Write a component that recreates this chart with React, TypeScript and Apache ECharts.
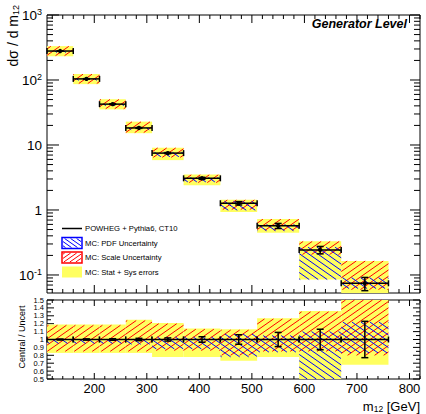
import React, { useEffect, useRef } from "react";
import * as echarts from "echarts";

// ---------- data ----------
const binEdges = [110, 160, 210, 260, 310, 370, 440, 510, 590, 670, 760];
const crossSection = [279, 104, 42.5, 18.3, 7.5, 3.07, 1.27, 0.57, 0.243, 0.0745];
const statError = [0.006, 0.008, 0.01, 0.015, 0.02, 0.035, 0.06, 0.09, 0.13, 0.23];
const statSysLow = [0.83, 0.83, 0.83, 0.83, 0.78, 0.78, 0.73, 0.78, 0.35, 0.68];
const statSysHigh = [1.19, 1.19, 1.19, 1.25, 1.21, 1.14, 1.13, 1.27, 1.36, 2.2];
const scaleLow = [0.85, 0.85, 0.85, 0.85, 0.86, 0.86, 0.8, 0.85, 0.85, 0.8];
const scaleHigh = [1.18, 1.18, 1.18, 1.24, 1.2, 1.13, 1.12, 1.26, 1.35, 2.2];
const pdfLow = [0.95, 0.95, 0.95, 0.94, 0.88, 0.88, 0.78, 0.84, 0.35, 0.83];
const pdfHigh = [1.0, 1.0, 1.0, 1.0, 1.03, 1.03, 1.07, 1.05, 1.1, 1.22];

const legendLabels = [
  "POWHEG + Pythia6, CT10",
  "MC: PDF Uncertainty",
  "MC: Scale Uncertainty",
  "MC: Stat + Sys errors",
];

const X_MIN = 110;
const X_MAX = 820;
const Y_MIN = 0.0528;
const Y_MAX = 1000;
const R_MIN = 0.5;
const R_MAX = 1.5;

const xMajorTicks = [200, 300, 400, 500, 600, 700, 800];
const xMinorTicks: number[] = [];
for (let v = 120; v <= X_MAX; v += 20) if (v % 100 !== 0) xMinorTicks.push(v);
const logMajorTicks = [0.1, 1, 10, 100, 1000];
const logMinorTicks: number[] = [];
for (const d of [0.01, 0.1, 1, 10, 100])
  for (let m = 2; m <= 9; m++) {
    const v = m * d;
    if (v > Y_MIN && v < Y_MAX) logMinorTicks.push(v);
  }
const ratioMajorTicks: number[] = [];
const ratioMinorTicks: number[] = [];
for (let i = 0; i <= 10; i++) ratioMajorTicks.push(0.5 + i * 0.1);
for (let i = 0; i < 10; i++) ratioMinorTicks.push(0.55 + i * 0.1);

// ---------- style ----------
const FONT = "'Liberation Sans', Arial, sans-serif";
const YELLOW = "#ffff60";
const RED = "#ff0000";
const BLUE = "#0000ff";
const HATCH_T = Math.tan((35 * Math.PI) / 180);

function hatchLines(
  x0: number, y0: number, x1: number, y1: number,
  dir: number, spacing: number, color: string, width: number
) {
  const out: any[] = [];
  if (x1 - x0 < 0.5 || y1 - y0 < 0.5) return out;
  const t = HATCH_T;
  if (dir === 1) {
    const cmin = x0 + y0 / t, cmax = x1 + y1 / t;
    for (let c = Math.ceil(cmin / spacing) * spacing; c <= cmax; c += spacing) {
      const ylo = Math.max(y0, (c - x1) * t), yhi = Math.min(y1, (c - x0) * t);
      if (yhi - ylo <= 0.05) continue;
      out.push({ type: "line", silent: true, shape: { x1: c - ylo / t, y1: ylo, x2: c - yhi / t, y2: yhi }, style: { stroke: color, lineWidth: width } });
    }
  } else {
    const cmin = x0 - y1 / t, cmax = x1 - y0 / t;
    for (let c = Math.ceil(cmin / spacing) * spacing; c <= cmax; c += spacing) {
      const ylo = Math.max(y0, (x0 - c) * t), yhi = Math.min(y1, (x1 - c) * t);
      if (yhi - ylo <= 0.05) continue;
      out.push({ type: "line", silent: true, shape: { x1: c + ylo / t, y1: ylo, x2: c + yhi / t, y2: yhi }, style: { stroke: color, lineWidth: width } });
    }
  }
  return out;
}

function binRender(withDot: boolean) {
  return (params: any, api: any) => {
    const cs = params.coordSys;
    const L = cs.x, R = cs.x + cs.width, T = cs.y, B = cs.y + cs.height;
    const xl = api.value(0), xh = api.value(1), c = api.value(2);
    const X0 = Math.max(L, api.coord([xl, c])[0]);
    const X1 = Math.min(R, api.coord([xh, c])[0]);
    const Y = (v: number) => api.coord([xl, v])[1];
    const cl = (y: number) => Math.max(T, Math.min(B, y));
    const band = (i: number) => [cl(Y(api.value(i + 1))), cl(Y(api.value(i)))];
    const children: any[] = [];
    const [ty0, ty1] = band(3);
    children.push({ type: "rect", shape: { x: X0, y: ty0, width: X1 - X0, height: ty1 - ty0 }, style: { fill: YELLOW } });
    const [ry0, ry1] = band(5);
    children.push(...hatchLines(X0, ry0, X1, ry1, 1, 9, RED, 1));
    const [by0, by1] = band(7);
    children.push(...hatchLines(X0, by0, X1, by1, -1, 9, BLUE, 1));
    const blk = { stroke: "#000", lineWidth: 1.5 };
    const yc = Y(c);
    if (yc >= T && yc <= B) {
      children.push({ type: "line", shape: { x1: X0, y1: yc, x2: X1, y2: yc }, style: blk });
      children.push({ type: "line", shape: { x1: X0, y1: yc - 3, x2: X0, y2: yc + 3 }, style: blk });
      children.push({ type: "line", shape: { x1: X1, y1: yc - 3, x2: X1, y2: yc + 3 }, style: blk });
    }
    const xm = api.coord([(xl + xh) / 2, c])[0];
    const e0 = cl(Y(api.value(9))), e1 = cl(Y(api.value(10)));
    children.push({ type: "line", shape: { x1: xm, y1: e1, x2: xm, y2: e0 }, style: blk });
    children.push({ type: "line", shape: { x1: xm - 3.5, y1: e1, x2: xm + 3.5, y2: e1 }, style: blk });
    children.push({ type: "line", shape: { x1: xm - 3.5, y1: e0, x2: xm + 3.5, y2: e0 }, style: blk });
    if (withDot && yc >= T && yc <= B) {
      children.push({ type: "circle", shape: { cx: xm, cy: yc, r: 2.2 }, style: { fill: "#000" } });
    }
    return { type: "group", children };
  };
}

function tickRender(cfg: any) {
  return (params: any, api: any) => {
    const cs = params.coordSys;
    const L = cs.x, R = cs.x + cs.width, T = cs.y, B = cs.y + cs.height;
    const children: any[] = [];
    const seg = (x1: number, y1: number, x2: number, y2: number) =>
      children.push({ type: "line", shape: { x1, y1, x2, y2 }, style: { stroke: "#000", lineWidth: 1 } });
    const xs = (v: number) => api.coord([v, cfg.yRef])[0];
    const ys = (v: number) => api.coord([cfg.xRef, v])[1];
    for (const v of cfg.xMajor) { const x = xs(v); seg(x, B, x, B - cfg.xMaj); seg(x, T, x, T + cfg.xMaj); }
    for (const v of cfg.xMinor) { const x = xs(v); seg(x, B, x, B - cfg.xMin); seg(x, T, x, T + cfg.xMin); }
    for (const v of cfg.yMajor) { const y = ys(v); seg(L, y, L + cfg.yMajL, y); seg(R, y, R - cfg.yMajR, y); }
    for (const v of cfg.yMinor) { const y = ys(v); seg(L, y, L + cfg.yMin, y); seg(R, y, R - cfg.yMin, y); }
    return { type: "group", children };
  };
}

function buildRows(central: number[] | null) {
  return crossSection.map((cx, i) => {
    const c = central ? cx : 1;
    return [
      binEdges[i], binEdges[i + 1], c,
      c * statSysLow[i], c * statSysHigh[i],
      c * scaleLow[i], c * scaleHigh[i],
      c * pdfLow[i], c * pdfHigh[i],
      c * (1 - statError[i]), c * (1 + statError[i]),
    ];
  });
}

const supRich = {
  b: { fontSize: 13.5, fontFamily: FONT, color: "#000", verticalAlign: "bottom", lineHeight: 15 },
  s: { fontSize: 9, fontFamily: FONT, color: "#000", verticalAlign: "top", lineHeight: 10, padding: [0, 0, 6, 0] },
};

function subRich(size: number, subSize: number, drop: number) {
  return {
    m: { fontSize: size, fontFamily: FONT, color: "#000", verticalAlign: "top", lineHeight: size + 1 },
    s: { fontSize: subSize, fontFamily: FONT, color: "#000", verticalAlign: "bottom", lineHeight: subSize, padding: [drop, 0, 0, 0] },
  };
}

function legendGraphics() {
  const g: any[] = [];
  const bx = 62, bw = 20, bh = 11;
  g.push({ type: "line", shape: { x1: bx, y1: 228.5, x2: bx + bw, y2: 228.5 }, style: { stroke: "#000", lineWidth: 1.5 } });
  g.push({ type: "rect", shape: { x: bx, y: 237.5, width: bw, height: bh }, style: { fill: "#fff", stroke: BLUE, lineWidth: 1.5 } });
  g.push(...hatchLines(bx + 1, 238.5, bx + bw - 1, 237.5 + bh - 1, -1, 6, BLUE, 1));
  g.push({ type: "rect", shape: { x: bx, y: 252, width: bw, height: bh }, style: { fill: "#fff", stroke: RED, lineWidth: 1.5 } });
  g.push(...hatchLines(bx + 1, 253, bx + bw - 1, 252 + bh - 1, 1, 6, RED, 1));
  g.push({ type: "rect", shape: { x: bx, y: 266.5, width: bw, height: bh }, style: { fill: YELLOW } });
  const ys = [228.5, 243, 257.5, 272];
  legendLabels.forEach((t, i) => {
    g.push({ type: "text", x: 85, y: ys[i], style: { text: t, fontSize: 7.7, fontFamily: FONT, fill: "#000", verticalAlign: "middle", align: "left" } });
  });
  return g;
}

export default function App() {
  const ref = useRef<HTMLDivElement>(null);
  useEffect(() => {
    if (!ref.current) return;
    const chart = echarts.init(ref.current, null, { renderer: "svg" });
    const isDecade = (v: number) => {
      const l = Math.log10(v);
      return Math.abs(l - Math.round(l)) < 1e-6;
    };
    const option: any = {
      animation: false,
      backgroundColor: "#fff",
      grid: [
        { left: 47, top: 15, width: 373, height: 278, show: true, borderColor: "#000", borderWidth: 1, backgroundColor: "transparent" },
        { left: 47, top: 300, width: 373, height: 79, show: true, borderColor: "#000", borderWidth: 1, backgroundColor: "transparent" },
      ],
      xAxis: [
        { type: "value", gridIndex: 0, min: X_MIN, max: X_MAX, axisLine: { show: false }, axisTick: { show: false }, axisLabel: { show: false }, splitLine: { show: false } },
        {
          type: "value", gridIndex: 1, min: X_MIN, max: X_MAX, splitNumber: 7,
          axisLine: { show: false }, axisTick: { show: false }, splitLine: { show: false },
          axisLabel: {
            show: true, margin: 3, fontSize: 13, lineHeight: 13, color: "#000", fontFamily: FONT,
            showMinLabel: false, showMaxLabel: false,
            formatter: (v: number) => (Math.abs(v % 100) < 1e-6 ? String(Math.round(v)) : ""),
          },
        },
      ],
      yAxis: [
        {
          type: "log", logBase: 10, gridIndex: 0, min: Y_MIN, max: Y_MAX,
          axisLine: { show: false }, axisTick: { show: false }, splitLine: { show: false },
          axisLabel: {
            margin: 5, showMinLabel: false,
            formatter: (v: number) => {
              if (!isDecade(v)) return "";
              const e = Math.round(Math.log10(v));
              if (e === 0) return "{b|1}";
              if (e === 1) return "{b|10}";
              return "{b|10}{s|" + e + "}";
            },
            rich: supRich,
          },
        },
        {
          type: "value", gridIndex: 1, min: R_MIN, max: R_MAX, interval: 0.1,
          axisLine: { show: false }, axisTick: { show: false }, splitLine: { show: false },
          axisLabel: {
            margin: 3, fontSize: 7.5, lineHeight: 7, color: "#000", fontFamily: FONT,
            showMinLabel: true, showMaxLabel: true,
            formatter: (v: number) => String(Math.round(v * 10) / 10),
          },
        },
      ],
      series: [
        {
          type: "custom", name: "ticksTop", xAxisIndex: 0, yAxisIndex: 0, silent: true, clip: false,
          data: [[500, 1]],
          renderItem: tickRender({ xRef: 500, yRef: 1, xMajor: xMajorTicks, xMinor: xMinorTicks, yMajor: logMajorTicks, yMinor: logMinorTicks, xMaj: 8, xMin: 4, yMajL: 12, yMajR: 10, yMin: 6 }),
        },
        {
          type: "custom", name: "ticksRatio", xAxisIndex: 1, yAxisIndex: 1, silent: true, clip: false,
          data: [[500, 1]],
          renderItem: tickRender({ xRef: 500, yRef: 1, xMajor: xMajorTicks, xMinor: xMinorTicks, yMajor: ratioMajorTicks, yMinor: ratioMinorTicks, xMaj: 6, xMin: 3, yMajL: 7, yMajR: 7, yMin: 4 }),
        },
        {
          type: "custom", name: "MC", xAxisIndex: 0, yAxisIndex: 0, silent: true, clip: false,
          encode: { x: 0, y: 2 },
          data: buildRows(crossSection),
          renderItem: binRender(true),
        },
        {
          type: "custom", name: "Ratio", xAxisIndex: 1, yAxisIndex: 1, silent: true, clip: false,
          encode: { x: 0, y: 2 },
          data: buildRows(null),
          renderItem: binRender(false),
        },
      ],
      graphic: [
        ...legendGraphics(),
        {
          type: "text", x: 407, y: 24,
          style: { text: "Generator Level", fontSize: 12.5, fontWeight: "bold", fontStyle: "italic", fontFamily: FONT, fill: "#000", align: "right", verticalAlign: "middle" },
        },
        {
          type: "text", x: 13, y: 5, rotation: Math.PI / 2,
          style: { text: "{m|dσ / d m}{s|12}", rich: subRich(14, 9, 6), align: "right", verticalAlign: "middle" },
        },
        {
          type: "text", x: 22, y: 337, rotation: Math.PI / 2,
          style: { text: "Central / Uncert", fontSize: 9, fontFamily: FONT, fill: "#000", align: "center", verticalAlign: "middle" },
        },
        {
          type: "text", x: 420, y: 406.5,
          style: { text: "{m|m}{s|12}{m| [GeV]}", rich: subRich(13, 8.5, 4), align: "right", verticalAlign: "middle" },
        },
      ],
    };
    chart.setOption(option);
    return () => chart.dispose();
  }, []);
  return (
    <div
      ref={ref}
      style={{ position: "fixed", left: 0, top: 0, width: 426, height: 414, background: "#fff" }}
    />
  );
}
